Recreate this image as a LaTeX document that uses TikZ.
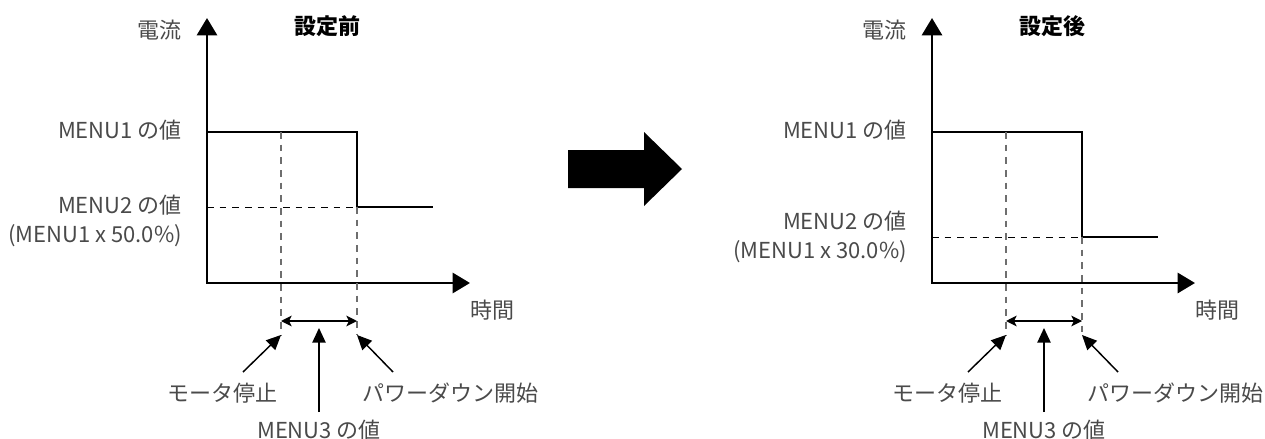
\documentclass[tikz,border=0pt]{standalone}
\usepackage{fontspec}
\setmainfont{Noto Sans CJK JP}
\usetikzlibrary{arrows.meta}
\definecolor{labelgray}{HTML}{4A4A4A}
\definecolor{guidegray}{HTML}{6E6E6E}
\tikzset{
  axis/.style={line width=2.2pt,line join=miter,
    {Triangle[length=13pt,width=15pt]}-{Triangle[length=13pt,width=15pt]}},
  curve/.style={line width=1.5pt},
  guide/.style={line width=0.9pt,dash pattern=on 5pt off 4.5pt,guidegray},
  level/.style={line width=0.75pt,dash pattern=on 5pt off 4.5pt},
  label/.style={text=labelgray,font=\fontsize{16.5pt}{19pt}\selectfont,inner sep=0pt},
  title/.style={font=\fontsize{16.5pt}{19pt}\selectfont\bfseries,inner sep=0pt},
  pointer/.style={line width=1.1pt,-{Triangle[length=11pt,width=10pt]}},
  span/.style={line width=1.1pt,
    {Stealth[length=8pt,width=8pt,inset=2pt]}-{Stealth[length=8pt,width=8pt,inset=2pt]}}
}
\begin{document}
\begin{tikzpicture}[x=0.75pt,y=-0.75pt]
    \useasboundingbox (0,0) rectangle (1265,439);
    % Big arrow between the two charts
    \fill (568,150) -- (644,150) -- (644,132) -- (682,169) -- (644,206) -- (644,188) -- (568,188) -- cycle;
    % Before / after
    \foreach \dx/\p/\title/\lvl/\pct/\ly in {0/a/設定前/207/50.0/205, 725/b/設定後/237/30.0/221} {
    \begin{scope}[shift={(\dx,0)}]
        % axes
        \coordinate (\p o) at (207,283);
        \coordinate (\p top) at (207,18);
        \coordinate (\p end) at (470,283);
        \draw[axis] (\p top) -- (\p o) -- (\p end);
        % current
        \coordinate (\p hi) at (207,132);
        \coordinate (\p drop) at (357,132);
        \coordinate (\p low) at (357,\lvl);
        \coordinate (\p tail) at (433,\lvl);
        \coordinate (\p lv) at (207,\lvl);
        \draw[level] (\p lv) -- (\p low);
        \draw[curve] (\p hi) -- (\p drop) -- (\p low) -- (\p tail);
        % time marks
        \coordinate (\p stop) at (281,132);
        \coordinate (\p stopb) at (281,335);
        \coordinate (\p lowb) at (357,335);
        \draw[guide] (\p stop) -- (\p stopb);
        \draw[guide] (\p low) -- (\p lowb);
        \coordinate (\p s1) at (281,321);
        \coordinate (\p s2) at (357,321);
        \draw[span] (\p s1) -- (\p s2);
        % labels
        \node[label,anchor=east] (\p cur) at (182,30) {電流};
        \node[title] (\p ttl) at (327,26) {\title};
        \node[label,anchor=east] (\p m1) at (182,130) {MENU1 の値};
        \node[label,anchor=east] (\p m2) at (182,\ly) {MENU2 の値};
        \node[label,anchor=east] (\p pct) at (182,\ly+31) {(MENU1 x \pct\%)};
        \node[label] (\p time) at (492,310) {時間};
        \node[label] (\p stopl) at (222,393) {モータ停止};
        \node[label] (\p pdl) at (450,393) {パワーダウン開始};
        \node[label] (\p m3) at (319,430) {MENU3 の値};
        % pointers
        \coordinate (\p a1) at (243,372);
        \coordinate (\p a2) at (393,372);
        \coordinate (\p a3) at (319,412);
        \coordinate (\p a4) at (319,328);
        \draw[pointer] (\p a1) -- (\p stopb);
        \draw[pointer] (\p a2) -- (\p lowb);
        \draw[pointer] (\p a3) -- (\p a4);
    \end{scope}
    }
\end{tikzpicture}
\end{document}
